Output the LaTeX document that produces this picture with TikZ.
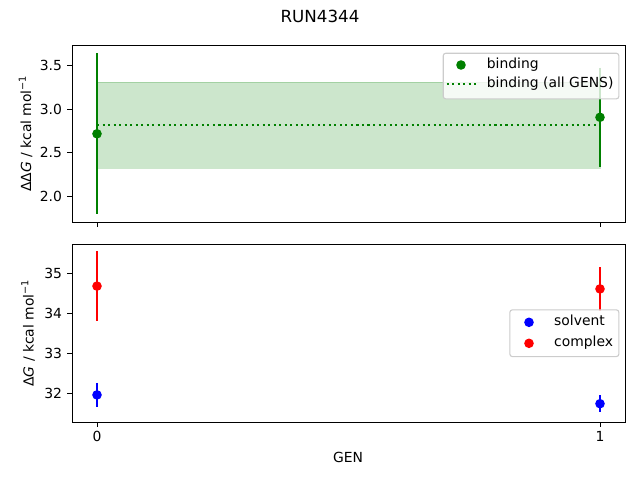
\documentclass[tikz,border=0pt]{standalone}
\usepackage{fontspec}
\setmainfont{DejaVu Sans}
\definecolor{mgreen}{RGB}{0,128,0}
\definecolor{mred}{RGB}{255,0,0}
\definecolor{mblue}{RGB}{0,0,255}
\definecolor{legedge}{RGB}{204,204,204}
\begin{document}
\begin{tikzpicture}[x=1pt,y=-1pt,
  declare function={ty(\v)=109-(\v-3)*87.3; by(\v)=393.3-(\v-32)*40;},
  txt/.style={inner sep=0pt,font=\fontsize{13.9}{16}\selectfont},
  ticklab/.style={txt,anchor=base east},
  spine/.style={line width=1pt,black},
  tickmark/.style={line width=1pt,black},
  ebar/.style={line width=2.08pt},
  mk/.style={circle,fill,inner sep=0pt,minimum size=9.6pt},
  legbox/.style={draw=legedge,fill=white,fill opacity=0.8,line width=1.1pt,rounded corners=2.5pt},
  dotline/.style={mgreen,line width=2.08pt,dash pattern=on 2.08pt off 3.44pt}
]
\useasboundingbox (0,0) rectangle (640,480);
% title
\node[txt,font=\fontsize{16.7}{19}\selectfont,anchor=base] (title) at (320,22.3) {RUN4344};

%%%%% top axes
\fill[mgreen,fill opacity=0.2] (97,{ty(3.306)}) rectangle (600,{ty(2.32)});
\draw[mgreen,draw opacity=0.2,line width=1pt] (97,{ty(3.306)}) rectangle (600,{ty(2.32)});
\coordinate (m0) at (97,{ty(2.813)});
\coordinate (m1) at (600,{ty(2.813)});
\draw[dotline] (m0) -- (m1);
\coordinate (t0a) at (97,{ty(2.716+0.922)});
\coordinate (t0b) at (97,{ty(2.716-0.922)});
\coordinate (t1a) at (600,{ty(2.905+0.565)});
\coordinate (t1b) at (600,{ty(2.905-0.565)});
\draw[ebar,mgreen] (t0a) -- (t0b);
\draw[ebar,mgreen] (t1a) -- (t1b);
\node[mk,mgreen] (g0) at (97,{ty(2.716)}) {};
\node[mk,mgreen] (g1) at (600,{ty(2.905)}) {};
% spines
\draw[spine] (72,45) rectangle (625.5,222.5);
% ticks
\foreach \v/\l in {2.0/2.0,2.5/2.5,3.0/3.0,3.5/3.5}{
  \draw[tickmark] (72,{ty(\v)}) -- (67.1,{ty(\v)});
  \node[ticklab] at (62.2,{ty(\v)+5.05}) {\l};
}
\foreach \x in {97,600}{
  \draw[tickmark] (\x,222.5) -- (\x,227.4);
}
\node[txt,rotate=90,anchor=base] (ylab1) at (31,133.7) {ΔΔ\textit{G} / kcal mol\textsuperscript{−1}};
% legend top
\node[legbox,minimum width=175.6pt,minimum height=45.6pt,anchor=north west] (leg1) at (442.7,52.7) {};
\node[mk,mgreen] (lg1) at (461,65) {};
\node[txt,anchor=base west] (lt1) at (486.7,68.6) {binding};
\coordinate (ld1) at (446.5,84.3);
\coordinate (ld2) at (475.5,84.3);
\draw[dotline] (ld1) -- (ld2);
\node[txt,anchor=base west] (lt2) at (486.7,87.9) {binding (all GENS)};

%%%%% bottom axes
\coordinate (r0a) at (97,{by(34.68+0.88)});
\coordinate (r0b) at (97,{by(34.68-0.88)});
\coordinate (b0a) at (97,{by(31.96+0.30)});
\coordinate (b0b) at (97,{by(31.96-0.30)});
\coordinate (r1a) at (600,{by(34.61+0.54)});
\coordinate (r1b) at (600,{by(34.61-0.54)});
\coordinate (b1a) at (600,{by(31.74+0.21)});
\coordinate (b1b) at (600,{by(31.74-0.21)});
\draw[ebar,mblue] (b0a) -- (b0b);
\draw[ebar,mblue] (b1a) -- (b1b);
\node[mk,mblue] (s0) at (97,{by(31.96)}) {};
\node[mk,mblue] (s1) at (600,{by(31.74)}) {};
\draw[ebar,mred] (r0a) -- (r0b);
\draw[ebar,mred] (r1a) -- (r1b);
\node[mk,mred] (c0) at (97,{by(34.68)}) {};
\node[mk,mred] (c1) at (600,{by(34.61)}) {};
\draw[spine] (72,244) rectangle (625.5,422);
\foreach \v in {32,33,34,35}{
  \draw[tickmark] (72,{by(\v)}) -- (67.1,{by(\v)});
  \node[ticklab] at (62.2,{by(\v)+5.05}) {\v};
}
\foreach \x/\l in {97/0,600/1}{
  \draw[tickmark] (\x,422) -- (\x,426.9);
  \node[txt,anchor=base] at (\x,441.8) {\l};
}
\node[txt,rotate=90,anchor=base] (ylab2) at (33.5,333) {Δ\textit{G} / kcal mol\textsuperscript{−1}};
\node[txt,anchor=base] (xlab) at (348,462.7) {GEN};
% legend bottom
\node[legbox,minimum width=109pt,minimum height=46.7pt,anchor=north west] (leg2) at (509.3,309.3) {};
\node[mk,mblue] (ls1) at (529,322.3) {};
\node[txt,anchor=base west] (ls1t) at (554,325.8) {solvent};
\node[mk,mred] (ls2) at (529,343.3) {};
\node[txt,anchor=base west] (ls2t) at (554,346.8) {complex};
\end{tikzpicture}
\end{document}
